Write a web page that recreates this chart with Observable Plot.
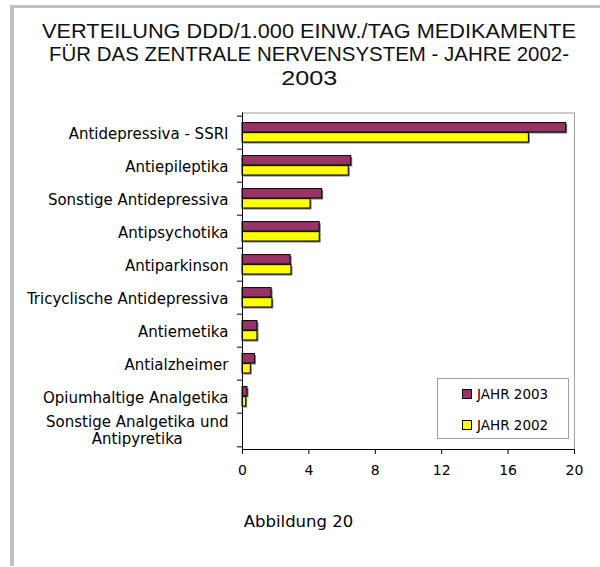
<!DOCTYPE html>
<html>
<head>
<meta charset="utf-8">
<script src="https://cdn.jsdelivr.net/npm/d3@7"></script>
<script src="https://cdn.jsdelivr.net/npm/@observablehq/plot@0.6"></script>
<style>
  html, body { margin: 0; padding: 0; background: #fff; }
  #wrap { position: relative; width: 600px; height: 567px; overflow: hidden; background: #fff; }
  #border { position: absolute; left: 10px; top: 5px; width: 620px; height: 561px;
            border-left: 4px solid #c0c0c0; border-top: 3px solid #c0c0c0; box-sizing: border-box; }
  #title { position: absolute; left: 0; width: 618px; top: 19px; text-align: center;
           font-family: "Liberation Sans", Arial, sans-serif;
           font-size: 21px; line-height: 23.3px; color: #111; }
  #title span { white-space: nowrap; display: inline-block; transform-origin: 50% 50%; }
  #chart { position: absolute; left: 0; top: 100px; }
  #legend { position: absolute; left: 437px; top: 378px; width: 132px; height: 61px; box-sizing: border-box;
            border: 1px solid #a0a0a0; background: #fff; font-family: "DejaVu Sans", sans-serif; font-size: 13.5px; }
  .item { position: absolute; left: 24px; height: 16px; line-height: 16px; white-space: nowrap; }
  .swatch { display: inline-block; width: 8px; height: 8px; border: 1px solid #000; vertical-align: middle;
            margin-right: 5px; position: relative; top: -1px; }
  #caption { position: absolute; left: 190px; width: 217px; top: 512px; text-align: center;
             font-family: "DejaVu Sans", sans-serif; font-size: 16.5px; line-height: 20px; }
</style>
</head>
<body>
<div id="wrap">
  <div id="border"></div>
  <div id="title"></div>
  <div id="chart"></div>
  <div id="legend"></div>
  <div id="caption">Abbildung 20</div>
</div>
<script>
const titleLines = [
  "VERTEILUNG DDD/1.000 EINW./TAG MEDIKAMENTE",
  "FÜR DAS ZENTRALE NERVENSYSTEM - JAHRE 2002-",
  "2003"
];
const categories = [
  "Antidepressiva - SSRI",
  "Antiepileptika",
  "Sonstige Antidepressiva",
  "Antipsychotika",
  "Antiparkinson",
  "Tricyclische Antidepressiva",
  "Antiemetika",
  "Antialzheimer",
  "Opiumhaltige Analgetika",
  "Sonstige Analgetika und\nAntipyretika"
];
const values2003 = [19.5, 6.55, 4.8, 4.65, 2.9, 1.75, 0.9, 0.75, 0.3, 0];
const values2002 = [17.25, 6.4, 4.1, 4.65, 2.95, 1.8, 0.9, 0.5, 0.22, 0];
const seriesNames = ["JAHR 2003", "JAHR 2002"];
const seriesColors = ["#993366", "#FFFF00"];
const xTicks = [0, 4, 8, 12, 16, 20];

const rows = categories.map((c, i) => ({category: c, v2003: values2003[i], v2002: values2002[i]}));

// title: narrow sans look, each line condensed to the original's line width
const titleWidths = [534, 520, 56];
const titleEl = document.getElementById("title");
titleLines.forEach((line, i) => {
  if (i > 0) titleEl.appendChild(document.createElement("br"));
  const s = document.createElement("span");
  s.textContent = line;
  titleEl.appendChild(s);
  const w = s.getBoundingClientRect().width;
  s.style.transform = `scaleX(${titleWidths[i] / w})`;
});

const H = 400, MT = 12.5, MB = 51;
const step = (H - MT - MB) / categories.length;

const plot = Plot.plot({
  width: 600,
  height: H,
  marginLeft: 242,
  marginRight: 26,
  marginTop: MT,
  marginBottom: MB,
  style: {fontFamily: "DejaVu Sans, sans-serif", fontSize: "15px", color: "#000", background: "transparent", overflow: "visible"},
  x: {domain: [0, 20], label: null},
  y: {domain: categories, padding: 0, label: null},
  marks: [
    Plot.frame({stroke: "#a0a0a0"}),
    Plot.barX(rows, {x: "v2003", y: "category", fill: "#777", dx: 1.5, dy: 1.5,
      insetTop: step * 0.196, insetBottom: step * 0.505}),
    Plot.barX(rows, {x: "v2002", y: "category", fill: "#777", dx: 1.5, dy: 1.5,
      insetTop: step * 0.495, insetBottom: step * 0.208}),
    Plot.barX(rows, {x: "v2003", y: "category", fill: seriesColors[0], stroke: "#000", strokeWidth: 1,
      insetTop: step * 0.196, insetBottom: step * 0.505}),
    Plot.barX(rows, {x: "v2002", y: "category", fill: seriesColors[1], stroke: "#000", strokeWidth: 1,
      insetTop: step * 0.495, insetBottom: step * 0.208}),
    Plot.ruleX([0], {stroke: "#000"}),
    Plot.frame({anchor: "bottom", stroke: "#000"}),
    Plot.axisX({ticks: xTicks, tickSize: 5, tickPadding: 11, fontSize: 14, label: null}),
    Plot.axisY({tickSize: 0, tickPadding: 14, label: null, fontSize: 15, lineHeight: 1.15}),
    Plot.axisY({text: null, tickSize: 5, dy: -step / 2, label: null}),
    Plot.axisY([categories[categories.length - 1]], {text: null, tickSize: 5, dy: step / 2, label: null})
  ]
});
document.getElementById("chart").appendChild(plot);

// center the two-line label like the original
plot.querySelectorAll("text").forEach(t => {
  if (t.textContent.includes("Antipyretika")) {
    const w = t.getBBox().width;
    t.setAttribute("text-anchor", "middle");
    const tr = t.getAttribute("transform") || "";
    t.setAttribute("transform", tr + ` translate(${-w / 2},0)`);
  }
});

// legend
const legend = document.getElementById("legend");
seriesNames.forEach((name, i) => {
  const item = document.createElement("div");
  item.className = "item";
  item.style.top = (i === 0 ? 7 : 38) + "px";
  const sw = document.createElement("span");
  sw.className = "swatch";
  sw.style.background = seriesColors[i];
  item.appendChild(sw);
  item.appendChild(document.createTextNode(name));
  legend.appendChild(item);
});
</script>
</body>
</html>
